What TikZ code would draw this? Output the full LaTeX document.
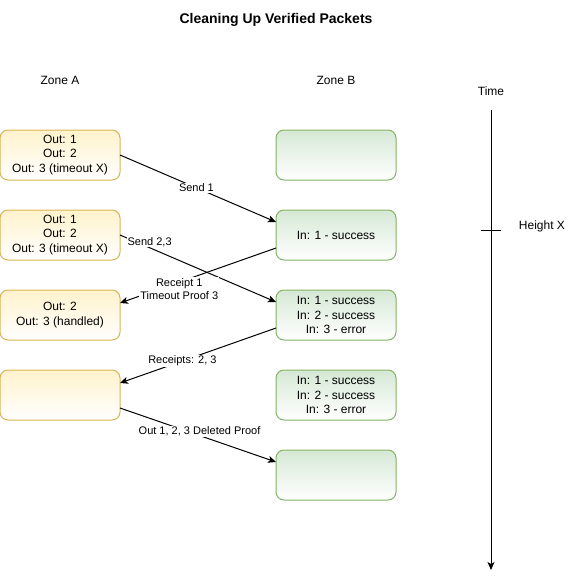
\documentclass[tikz,border=0pt]{standalone}
\usepackage{fontspec}
\setmainfont{Liberation Sans}
\usetikzlibrary{arrows.meta,positioning}
\definecolor{outfill}{HTML}{FFF2CC}
\definecolor{outstroke}{HTML}{D6B656}
\definecolor{infill}{HTML}{D5E8D4}
\definecolor{instroke}{HTML}{82B366}

\begin{document}
\begin{tikzpicture}[
  x=1pt, y=-1pt,
  node distance=30pt,
  font=\fontsize{12}{14.5}\selectfont,
  outbox/.style={draw=outstroke, top color=outfill, bottom color=white, rounded corners=8pt, align=center, minimum width=120pt, minimum height=50pt, inner sep=2pt, outer sep=0pt, line width=1pt},
  inbox/.style={draw=instroke, top color=infill, bottom color=white, rounded corners=8pt, align=center, minimum width=120pt, minimum height=50pt, inner sep=2pt, outer sep=0pt, line width=1pt},
  msg/.style={font=\fontsize{11}{13.5}\selectfont, fill=white, inner sep=1pt, align=center},
  arr/.style={-{Stealth[length=8pt,width=7pt,inset=2pt]}, line width=1pt}
]
\useasboundingbox (0,0) rectangle (571,579);

\node[font=\fontsize{14}{17}\selectfont\bfseries] (title) at (276,20) {Cleaning Up Verified Packets};
\node (zonea) at (60,80) {Zone A};
\node (zoneb) at (336,80) {Zone B};
\node (time) at (491,91) {Time};

% zone A
\node[outbox] (a1) at (60,155) {Out: 1\\Out: 2\\Out: 3 (timeout X)};
\node[outbox, below=of a1] (a2) {Out: 1\\Out: 2\\Out: 3 (timeout X)};
\node[outbox, below=of a2] (a3) {Out: 2\\Out: 3 (handled)};
\node[outbox, below=of a3] (a4) {};

% zone B
\node[inbox] (b1) at (336,155) {};
\node[inbox, below=of b1] (b2) {In: 1 - success};
\node[inbox, below=of b2] (b3) {In: 1 - success\\In: 2 - success\\In: 3 - error};
\node[inbox, below=of b3] (b4) {In: 1 - success\\In: 2 - success\\In: 3 - error};
\node[inbox, below=of b4] (b5) {};

% time axis
\coordinate (tstart) at (491,110);
\coordinate (tend) at (491,570);
\coordinate (hx) at (491,230);
\draw[arr] (tstart) -- (tend);
\draw[line width=1pt] ([xshift=-10pt]hx) -- ([xshift=10pt]hx);
\node (height) at (542,226) {Height X};

% messages
\draw[arr] (a1.east) -- node[msg, pos=0.49] {Send 1} ([yshift=13pt]b2.west);
\draw[arr] (a2.east) -- node[msg, pos=0.19, yshift=6pt] {Send 2,3} ([yshift=13pt]b3.west);
\draw[arr] ([yshift=-13pt]b2.west) -- node[msg, pos=0.62, yshift=-7pt] {Receipt 1\\Timeout Proof 3} ([yshift=12pt]a3.east);
\draw[arr] ([yshift=-13pt]b3.west) -- node[msg, pos=0.6] {Receipts: 2, 3} ([yshift=12pt]a4.east);
\draw[arr] ([yshift=-13pt]a4.east) -- node[msg, pos=0.51, yshift=4pt] {Out 1, 2, 3 Deleted Proof} ([yshift=13pt]b5.west);
\end{tikzpicture}
\end{document}
